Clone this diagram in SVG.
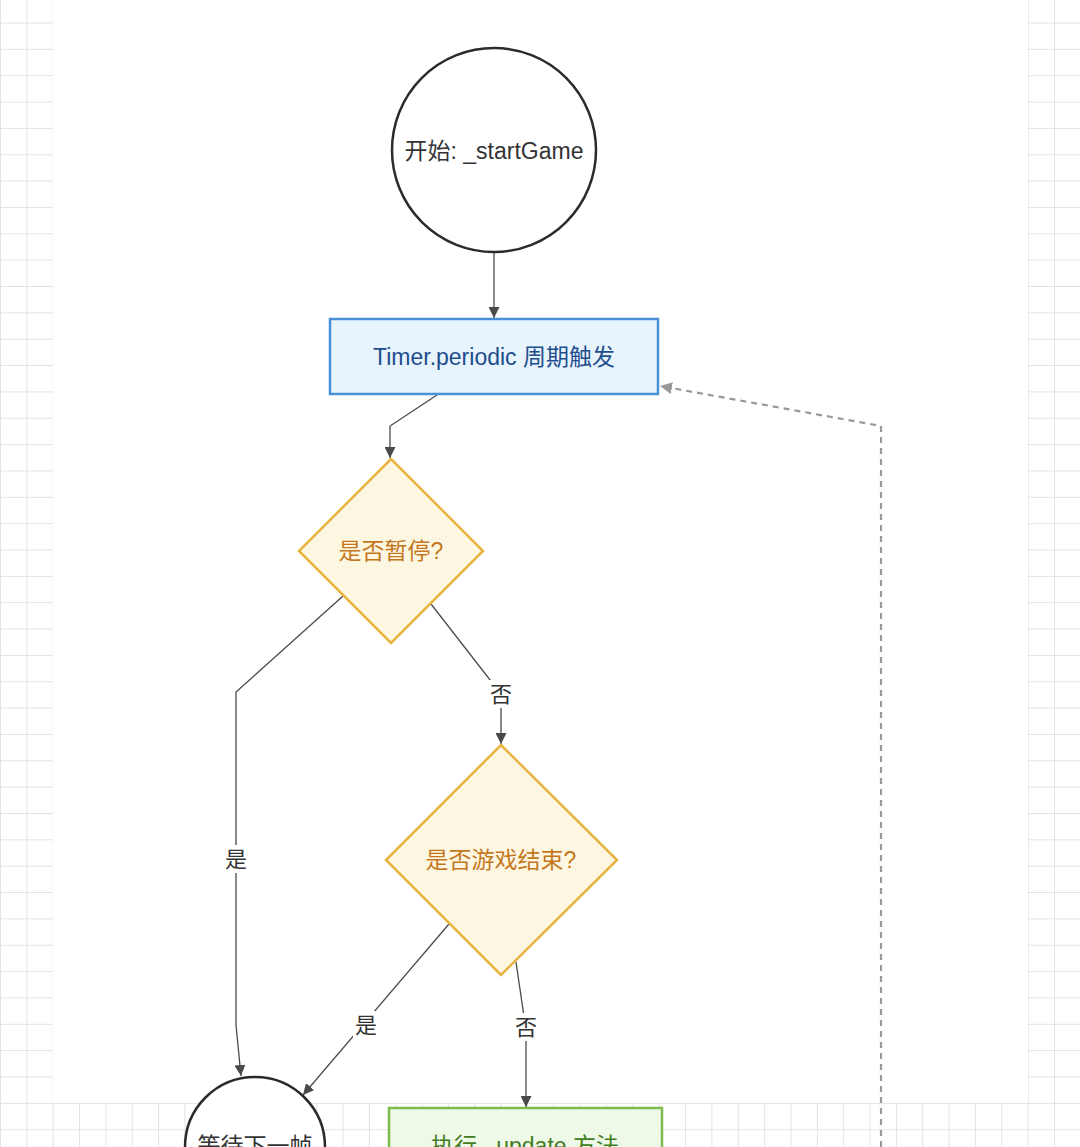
<svg xmlns="http://www.w3.org/2000/svg" width="1080" height="1147" viewBox="0 0 1080 1147">
  <defs>
    <pattern id="grid" patternUnits="userSpaceOnUse" x="0" y="22.5" width="26.35" height="26.35">
      <path d="M0 0.5 H26.35 M0.5 0 V26.35" fill="none" stroke="#e2e2e2" stroke-width="1"/>
    </pattern>
    <marker id="arr" viewBox="0 0 10 10" refX="10" refY="5" markerWidth="11" markerHeight="11" markerUnits="userSpaceOnUse" orient="auto">
      <path d="M0 0 L10 5 L0 10 Z" fill="#4a4a4a"/>
    </marker>
    <marker id="arrg" viewBox="0 0 10 10" refX="10" refY="5" markerWidth="12" markerHeight="12" markerUnits="userSpaceOnUse" orient="auto">
      <path d="M0 0 L10 5 L0 10 Z" fill="#999999"/>
    </marker>
  </defs>
  <style>
    text { font-family: "Liberation Sans", "Noto Sans CJK SC", sans-serif; font-size: 23px; text-anchor: middle; dominant-baseline: central; }
    .circle { fill: #ffffff; stroke: #2b2b2b; stroke-width: 2.5; }
    .ctext { fill: #333333; }
    .proc { fill: #e8f4fd; stroke: #4a90d9; stroke-width: 2.5; }
    .ptext { fill: #1f4e8c; }
    .dec { fill: #fdf7e2; stroke: #e6b43f; stroke-width: 2.5; }
    .dtext { fill: #c4771d; }
    .ok { fill: #eff9e8; stroke: #7dbb4f; stroke-width: 2.5; }
    .otext { fill: #3f7d1f; }
    .edge { fill: none; stroke: #4a4a4a; stroke-width: 1.3; }
    .dash { fill: none; stroke: #999999; stroke-width: 2.2; stroke-dasharray: 6 5; }
    .lbg { fill: #ffffff; }
    .ltext { fill: #333333; font-size: 22px; }
  </style>

  <rect x="0" y="0" width="1080" height="1147" fill="#ffffff"/>
  <rect x="0" y="0" width="1080" height="1147" fill="url(#grid)"/>
  <rect x="53" y="0" width="975" height="1103" fill="#ffffff"/>

  <g id="connectors">
    <path class="edge" d="M494 253 V318" marker-end="url(#arr)"/>
    <path class="edge" d="M437 395 L390 426 V458" marker-end="url(#arr)"/>
    <path class="edge" d="M431 604 L501 694 V744" marker-end="url(#arr)"/>
    <path class="edge" d="M343 596 L236 692 V1025 L241 1076" marker-end="url(#arr)"/>
    <path class="edge" d="M449 924 L303 1095" marker-end="url(#arr)"/>
    <path class="edge" d="M516 962 L526 1030 V1107" marker-end="url(#arr)"/>
    <path class="dash" d="M881 1147 V426 L660 386" marker-end="url(#arrg)"/>
    <g id="label-no1"><rect class="lbg" x="488" y="680" width="26" height="28"/><text class="ltext" x="501" y="694">否</text></g>
    <g id="label-yes1"><rect class="lbg" x="223" y="845" width="26" height="28"/><text class="ltext" x="236" y="859">是</text></g>
    <g id="label-yes2"><rect class="lbg" x="353" y="1011" width="26" height="28"/><text class="ltext" x="366" y="1025">是</text></g>
    <g id="label-no2"><rect class="lbg" x="513" y="1013" width="26" height="28"/><text class="ltext" x="526" y="1027">否</text></g>
  </g>

  <g id="start">
    <circle class="circle" cx="494" cy="150" r="102"/>
    <text class="ctext" x="494" y="151">开始: _startGame</text>
  </g>

  <g id="timer">
    <rect class="proc" x="330" y="319" width="328" height="75"/>
    <text class="ptext" x="494" y="357">Timer.periodic 周期触发</text>
  </g>

  <g id="paused">
    <polygon class="dec" points="391,459 483,551 391,643 299,551"/>
    <text class="dtext" x="391" y="551">是否暂停?</text>
  </g>

  <g id="gameover">
    <polygon class="dec" points="501,745 617,860 501,975 386,860"/>
    <text class="dtext" x="501" y="860">是否游戏结束?</text>
  </g>

  <g id="wait">
    <circle class="circle" cx="255" cy="1147" r="70"/>
    <text class="ctext" x="255" y="1146">等待下一帧</text>
  </g>

  <g id="update">
    <rect class="ok" x="389" y="1108" width="273" height="80"/>
    <text class="otext" x="525" y="1146">执行 _update 方法</text>
  </g>
</svg>
